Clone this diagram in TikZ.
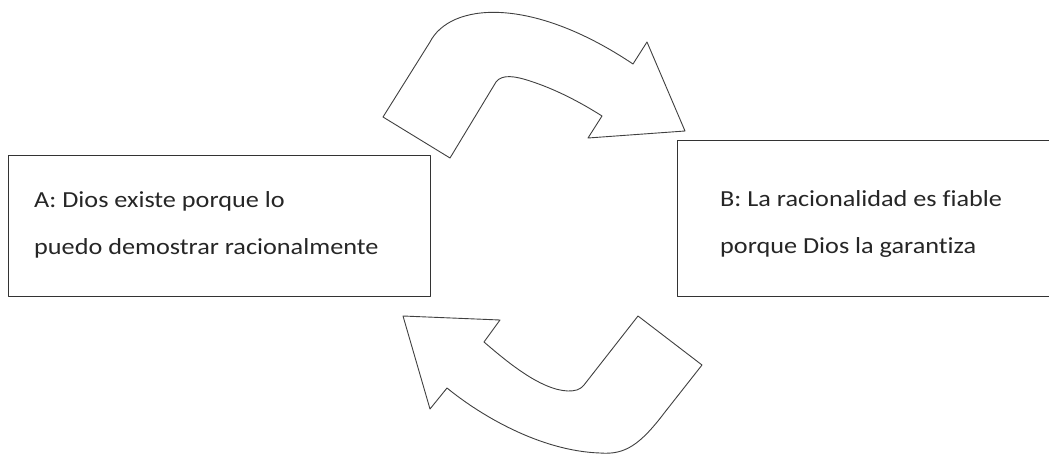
\documentclass[tikz,border=0pt]{standalone}
\usepackage{fontspec}
\setmainfont{Carlito}[FakeStretch=1.14, Ligatures=NoCommon]
\usepackage{tikz}
\usetikzlibrary{calc}
\usepackage{xcolor}

\begin{document}
\begin{tikzpicture}[x=1pt,y=-1pt,line join=round,
  boxline/.style={draw=black!80, line width=0.9pt, inner sep=0pt, outer sep=0pt, anchor=north west},
  boxtext/.style={anchor=base west, align=left, text=black!85, inner sep=0pt, font=\fontsize{23}{47}\selectfont},
  bigarrow/.style={draw=black!75, line width=0.9pt, fill=white}]
\useasboundingbox (0,0) rectangle (1049,455);

\node [boxline, minimum width=422pt, minimum height=141pt] (boxA) at (8,155) {};
\node [boxline, minimum width=380pt, minimum height=156pt] (boxB) at (677,140) {};

\node [boxtext] (textA) at (34,254) {A: Dios existe porque lo\\puedo demostrar racionalmente};
\node [boxtext] (textB) at (720,253) {B: La racionalidad es fiable\\porque Dios la garantiza};

% top arrow, A to B
\coordinate (t1) at (383,117);
\coordinate (t2) at (450,158);
\filldraw [bigarrow] (t1) -- (430,42) .. controls (450,3) and (530,-5) .. (633,64)
  -- (647,42) -- (685,131) -- (588,138) -- (602,116)
  .. controls (580,102) and (555,89) .. (530,81)
  .. controls (515,76) and (502,74) .. (496,82) -- (t2) -- cycle;

% bottom arrow, B to A
\coordinate (b1) at (638,316);
\coordinate (b2) at (702,365);
\filldraw [bigarrow] (403,316) -- (500,320) -- (484,342)
  .. controls (505,360) and (540,390) .. (568,391)
  .. controls (575,391) and (580,390) .. (584,385) -- (b1) -- (b2) -- (665,412)
  .. controls (640,445) and (625,455) .. (600,453)
  .. controls (540,451) and (480,415) .. (447,388) -- (430,409) -- cycle;
\end{tikzpicture}
\end{document}
